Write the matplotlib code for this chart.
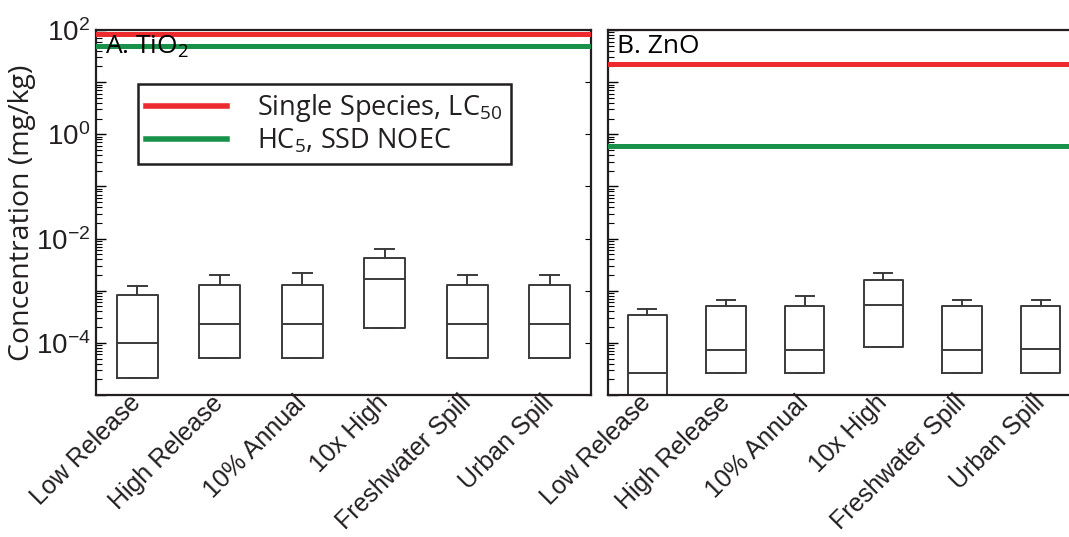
import matplotlib
matplotlib.use('Agg')
import matplotlib.pyplot as plt
from matplotlib.ticker import LogLocator, FuncFormatter, NullFormatter
import numpy as np

# scenario names (x axis)
scenarios = ['Low Release', 'High Release', '10% Annual', '10x High',
             'Freshwater Spill', 'Urban Spill']

# A. TiO2 box statistics (mg/kg)
tio2_q1 = [2.1e-5, 5.2e-5, 5.2e-5, 1.9e-4, 5.2e-5, 5.2e-5]
tio2_med = [1.0e-4, 2.3e-4, 2.35e-4, 1.65e-3, 2.3e-4, 2.3e-4]
tio2_q3 = [8.3e-4, 1.28e-3, 1.28e-3, 4.2e-3, 1.28e-3, 1.28e-3]
tio2_hi = [1.25e-3, 2.0e-3, 2.2e-3, 6.2e-3, 2.0e-3, 2.0e-3]

# B. ZnO box statistics (mg/kg)
zno_q1 = [5e-6, 2.6e-5, 2.6e-5, 8.4e-5, 2.6e-5, 2.6e-5]
zno_med = [2.7e-5, 7.2e-5, 7.3e-5, 5.3e-4, 7.2e-5, 7.7e-5]
zno_q3 = [3.4e-4, 5.15e-4, 5.15e-4, 1.63e-3, 5.15e-4, 5.15e-4]
zno_hi = [4.4e-4, 6.7e-4, 7.8e-4, 2.15e-3, 6.7e-4, 6.7e-4]

# toxicity thresholds: [single species LC50, HC5 SSD NOEC]
tio2_thresh = [82.0, 48.5]
zno_thresh = [22.0, 0.6]

RED = '#ed2a2e'
GREEN = '#18924a'
INK = '#231f20'

plt.rcParams['mathtext.fontset'] = 'custom'
plt.rcParams['mathtext.rm'] = 'Open Sans'
plt.rcParams['mathtext.sf'] = 'Liberation Sans'

fig = plt.figure(figsize=(10.69, 5.37), dpi=100)
ax_a = fig.add_axes([96 / 1069, 1 - 395 / 537, 495 / 1069, 365 / 537])
ax_b = fig.add_axes([608 / 1069, 1 - 395 / 537, 472 / 1069, 365 / 537])


def make_stats(q1, med, q3, hi):
    stats = []
    for i in range(len(q1)):
        stats.append({'med': med[i], 'q1': q1[i], 'q3': q3[i],
                      'whislo': q1[i], 'whishi': hi[i], 'fliers': []})
    return stats


def sci_label(v, pos):
    e = int(round(np.log10(v)))
    if e % 2 != 0:
        return ''
    return r'$\mathsf{10^{%d}}$' % e


def style_axis(ax, show_labels):
    ax.set_yscale('log')
    ax.set_ylim(1e-5, 1e2)
    ax.set_xlim(0.5, 6.5)
    ax.yaxis.set_major_locator(LogLocator(base=10, numticks=20))
    ax.yaxis.set_minor_locator(LogLocator(base=10, subs=np.arange(2, 10), numticks=20))
    ax.yaxis.set_minor_formatter(NullFormatter())
    if show_labels:
        ax.yaxis.set_major_formatter(FuncFormatter(sci_label))
    else:
        ax.yaxis.set_major_formatter(NullFormatter())
    ax.tick_params(axis='y', which='major', direction='in', length=7, width=1,
                   labelsize=20, labelcolor=INK, pad=4)
    ax.tick_params(axis='y', which='minor', direction='in', length=4, width=0.8)
    ax.tick_params(axis='x', length=0, pad=3)
    ax.set_xticks(range(1, 7))
    ax.set_xticklabels(scenarios, rotation=45, ha='right', va='center',
                       rotation_mode='anchor', fontsize=18,
                       family='Liberation Sans', color=INK)
    for s in ax.spines.values():
        s.set_linewidth(1.6)
        s.set_color(INK)
    right = ax.secondary_yaxis('right')
    right.set_yticks([1e-4, 1e-2, 1, 1e2])
    right.yaxis.set_major_formatter(NullFormatter())
    right.yaxis.set_minor_locator(LogLocator(base=10, subs=[], numticks=20))
    right.yaxis.set_minor_formatter(NullFormatter())
    right.tick_params(which='both', direction='in', length=4, width=0.8, labelright=False)
    right.spines['right'].set_visible(False)


box_kw = dict(widths=0.5, capwidths=0.23, showfliers=False,
              boxprops=dict(color='#3a3a3a', linewidth=1.4),
              whiskerprops=dict(color='#3a3a3a', linewidth=1.4),
              capprops=dict(color='#3a3a3a', linewidth=1.4),
              medianprops=dict(color='#3a3a3a', linewidth=1.4))

ax_a.bxp(make_stats(tio2_q1, tio2_med, tio2_q3, tio2_hi), positions=range(1, 7), **box_kw)
ax_b.bxp(make_stats(zno_q1, zno_med, zno_q3, zno_hi), positions=range(1, 7), **box_kw)

style_axis(ax_a, True)
style_axis(ax_b, False)

for ax, th in [(ax_a, tio2_thresh), (ax_b, zno_thresh)]:
    ax.axhline(th[0], color=RED, lw=3.6, zorder=3, label='Single Species, LC$_{50}$')
    ax.axhline(th[1], color=GREEN, lw=3.6, zorder=3, label='HC$_{5}$, SSD NOEC')

ax_a.text(0.018, 0.99, 'A. TiO$_2$', transform=ax_a.transAxes, ha='left', va='top',
          fontsize=19, family='Open Sans', color='black', zorder=5)
ax_b.text(0.02, 0.99, 'B. ZnO', transform=ax_b.transAxes, ha='left', va='top',
          fontsize=19, family='Open Sans', color='black', zorder=5)

ax_a.set_ylabel('Concentration (mg/kg)', fontsize=20.5, family='Open Sans', color=INK,
                labelpad=0)

leg = ax_a.legend(loc='upper left', bbox_to_anchor=(0.085, 0.852), borderaxespad=0,
                  fancybox=False, framealpha=1, edgecolor=INK, handlelength=3.0,
                  prop={'family': 'Open Sans', 'size': 19.5}, labelspacing=0.12,
                  borderpad=0.3, handletextpad=1.1)
leg.get_frame().set_linewidth(1.8)
for t in leg.get_texts():
    t.set_color(INK)
for h in leg.get_lines():
    h.set_linewidth(4)

plt.savefig('out.png', dpi=100)
plt.close()
